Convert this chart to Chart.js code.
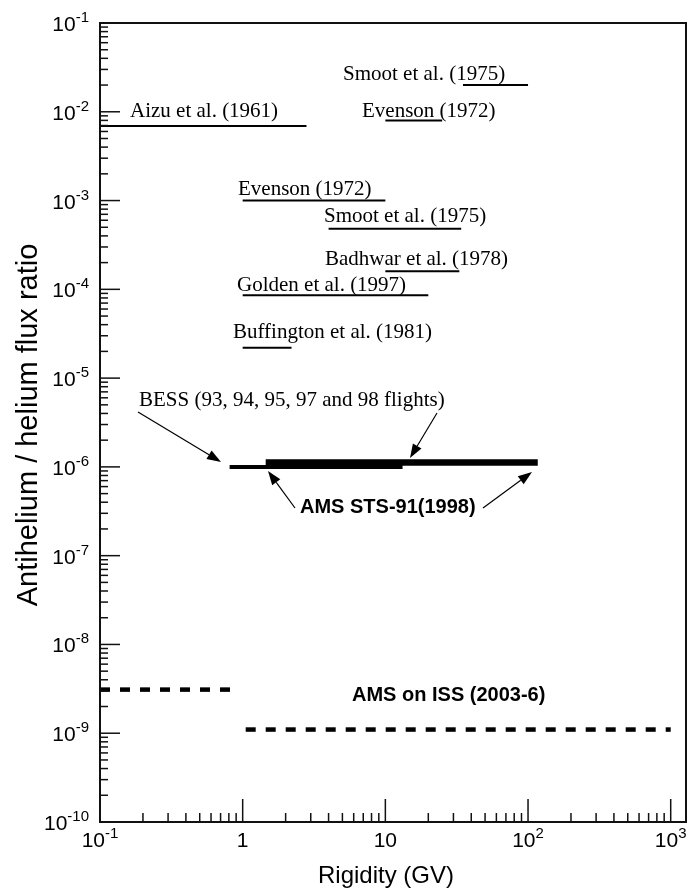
<!DOCTYPE html>
<html>
<head>
<meta charset="utf-8">
<script src="https://cdn.jsdelivr.net/npm/chart.js@4/dist/chart.umd.min.js"></script>
<style>
html,body{margin:0;padding:0;background:#fff;}
canvas{display:block;}
</style>
</head>
<body>
<canvas id="c" width="688" height="893"></canvas>
<script>
// ---- data ----
const experiments = ["Aizu et al. (1961)", "Smoot et al. (1975)", "Evenson (1972)", "Evenson (1972)",
  "Smoot et al. (1975)", "Badhwar et al. (1978)", "Golden et al. (1997)", "Buffington et al. (1981)"];
const rigidityLow  = [0.1, 35, 10, 1, 4, 10, 1, 1];
const rigidityHigh = [2.8, 100, 25, 10, 34, 33, 20, 2.2];
const ratioLimit   = [6.9e-3, 2.0e-2, 8.0e-3, 1.0e-3, 4.8e-4, 1.6e-4, 8.6e-5, 2.2e-5];

const bessLabel = "BESS (93, 94, 95, 97 and 98 flights)";
const bessRange = [0.81, 13.2];
const bessRatio = 1.0e-6;

const amsLabel = "AMS STS-91(1998)";
const amsRange = [1.45, 117];
const amsRatio = 1.12e-6;

const issLabel = "AMS on ISS (2003-6)";
const issLow   = [0.1, 1.05];
const issHigh  = [0.95, 1000];
const issRatio = [3.1e-9, 1.1e-9];

const xTickValues = [0.1, 1, 10, 100, 1000];
const xTickLabels = ["10^-1", "1", "10", "10^2", "10^3"];
const yTickValues = [1e-1, 1e-2, 1e-3, 1e-4, 1e-5, 1e-6, 1e-7, 1e-8, 1e-9, 1e-10];
const yTickLabels = ["10^-1", "10^-2", "10^-3", "10^-4", "10^-5", "10^-6", "10^-7", "10^-8", "10^-9", "10^-10"];
const xTitle = "Rigidity (GV)";
const yTitle = "Antihelium / helium flux ratio";

// ---- label placement (pixels: left x, baseline y) ----
const expLabelPos = [[130,117],[343,80],[362,117],[238,195],[324,222],[325,265],[237,291],[233,338]];

// ---- datasets ----
const datasets = [];
experiments.forEach((name, i) => {
  datasets.push({label: name, data: [{x: rigidityLow[i], y: ratioLimit[i]}, {x: rigidityHigh[i], y: ratioLimit[i]}],
    borderColor: '#000', borderWidth: 2, pointRadius: 0, borderCapStyle: 'butt'});
});
datasets.push({label: bessLabel, data: [{x: bessRange[0], y: bessRatio}, {x: bessRange[1], y: bessRatio}],
  borderColor: '#000', borderWidth: 4, pointRadius: 0, borderCapStyle: 'butt'});
datasets.push({label: amsLabel, data: [{x: amsRange[0], y: amsRatio}, {x: amsRange[1], y: amsRatio}],
  borderColor: '#000', borderWidth: 6.5, pointRadius: 0, borderCapStyle: 'butt'});
issLow.forEach((lo, i) => {
  datasets.push({label: issLabel, data: [{x: lo, y: issRatio[i]}, {x: issHigh[i], y: issRatio[i]}],
    borderColor: '#000', borderWidth: 4.5, borderDash: [10, 10], pointRadius: 0, borderCapStyle: 'butt'});
});

function drawPow(ctx, label, x, yb, align) {
  const parts = label.split('^');
  const mainFont = '21px "Liberation Sans", Arial, sans-serif';
  const supFont = '15px "Liberation Sans", Arial, sans-serif';
  ctx.font = mainFont;
  const w1 = ctx.measureText(parts[0]).width;
  let w2 = 0;
  if (parts[1]) { ctx.font = supFont; w2 = ctx.measureText(parts[1]).width; }
  const total = w1 + w2;
  let x0 = x;
  if (align === 'right') x0 = x - total;
  else if (align === 'center') x0 = x - total / 2;
  ctx.textAlign = 'left';
  ctx.textBaseline = 'alphabetic';
  ctx.font = mainFont;
  ctx.fillText(parts[0], x0, yb);
  if (parts[1]) { ctx.font = supFont; ctx.fillText(parts[1], x0 + w1, yb - 9); }
}

function arrow(ctx, x1, y1, x2, y2) {
  const ang = Math.atan2(y2 - y1, x2 - x1);
  const L = 14, W = 5;
  const bx = x2 - L * Math.cos(ang), by = y2 - L * Math.sin(ang);
  ctx.beginPath(); ctx.moveTo(x1, y1); ctx.lineTo(bx, by); ctx.lineWidth = 1.2; ctx.stroke();
  ctx.beginPath();
  ctx.moveTo(x2, y2);
  ctx.lineTo(bx + W * Math.sin(ang), by - W * Math.cos(ang));
  ctx.lineTo(bx - W * Math.sin(ang), by + W * Math.cos(ang));
  ctx.closePath(); ctx.fill();
}

const decor = {
  id: 'decor',
  afterDraw(chart) {
    const {ctx, chartArea: a, scales: {x, y}} = chart;
    ctx.save();
    ctx.strokeStyle = '#111'; ctx.fillStyle = '#000';
    // frame
    ctx.lineWidth = 2;
    ctx.strokeRect(a.left, a.top, a.right - a.left, a.bottom - a.top);
    // x ticks (inward from bottom)
    ctx.lineWidth = 1.5;
    for (let e = -1; e <= 3; e++) {
      for (let k = 1; k <= 9; k++) {
        const v = k * Math.pow(10, e);
        const px = x.getPixelForValue(v);
        if (px < a.left - 0.5 || px > a.right - 1) continue;
        const len = k === 1 ? 23 : 9;
        ctx.beginPath(); ctx.moveTo(px, a.bottom); ctx.lineTo(px, a.bottom - len); ctx.stroke();
      }
    }
    // y ticks (inward from left)
    for (let e = -10; e <= -1; e++) {
      for (let k = 1; k <= 9; k++) {
        const v = k * Math.pow(10, e);
        if (e === -1 && k > 1) continue;
        const py = y.getPixelForValue(v);
        const len = k === 1 ? 20 : 8;
        ctx.beginPath(); ctx.moveTo(a.left, py); ctx.lineTo(a.left + len, py); ctx.stroke();
      }
    }
    // tick labels
    ctx.fillStyle = '#000';
    xTickValues.forEach((v, i) => drawPow(ctx, xTickLabels[i], x.getPixelForValue(v), a.bottom + 25, 'center'));
    yTickValues.forEach((v, i) => drawPow(ctx, yTickLabels[i], 89, y.getPixelForValue(v) + 8, 'right'));
    // axis titles
    ctx.font = '24px "Liberation Sans", Arial, sans-serif';
    ctx.textAlign = 'center'; ctx.textBaseline = 'alphabetic';
    ctx.fillText(xTitle, 386, 883);
    ctx.save();
    ctx.translate(37, 425); ctx.rotate(-Math.PI / 2);
    ctx.font = '29px "Liberation Sans", Arial, sans-serif';
    ctx.fillText(yTitle, 0, 0);
    ctx.restore();
    // experiment labels
    ctx.font = '21px "Liberation Serif", "Times New Roman", serif';
    ctx.textAlign = 'left';
    experiments.forEach((n, i) => ctx.fillText(n, expLabelPos[i][0], expLabelPos[i][1]));
    ctx.fillText(bessLabel, 139, 406);
    ctx.font = 'bold 20px "Liberation Sans", Arial, sans-serif';
    ctx.fillText(amsLabel, 300, 513);
    ctx.fillText(issLabel, 352, 701);
    // arrows
    ctx.strokeStyle = '#000';
    arrow(ctx, 138, 412, 221, 462);
    arrow(ctx, 437, 413, 410, 458);
    arrow(ctx, 295, 508, 268, 471);
    arrow(ctx, 483, 508, 532, 472);
    ctx.restore();
  }
};

new Chart(document.getElementById('c'), {
  type: 'line',
  data: {datasets},
  options: {
    responsive: false,
    animation: false,
    layout: {padding: {left: 100, right: 2, top: 23, bottom: 71}},
    plugins: {legend: {display: false}, tooltip: {enabled: false}},
    scales: {
      x: {type: 'logarithmic', min: 0.1, max: 1280, display: false},
      y: {type: 'logarithmic', min: 1e-10, max: 1e-1, display: false}
    }
  },
  plugins: [decor]
});
</script>
</body>
</html>
